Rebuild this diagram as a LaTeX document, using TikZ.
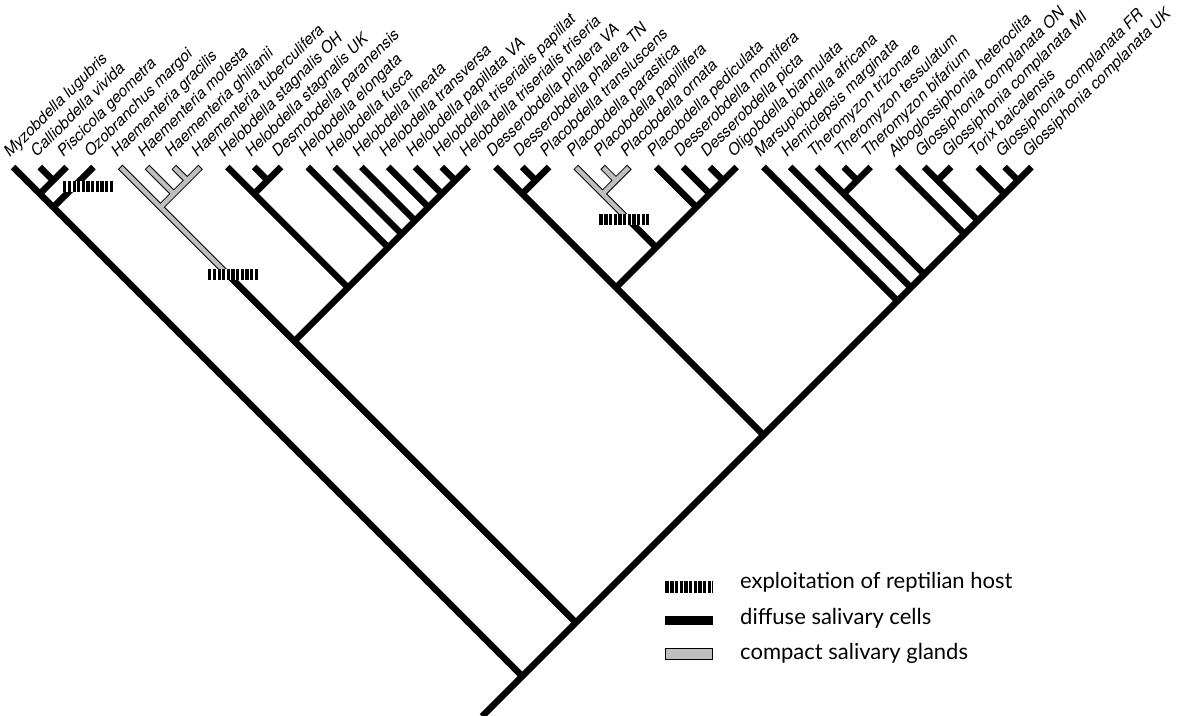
\documentclass[tikz,border=0pt]{standalone}
\usepackage{fontspec}
\setmainfont{TeX Gyre Heros}
\newfontfamily\legfont{Lato}
\begin{document}
\begin{tikzpicture}[x=1pt,y=-1pt,
  br/.style={line width=6.5pt, line cap=butt, line join=miter, black},
  gout/.style={line width=6.5pt, line cap=butt, line join=miter, black},
  gin/.style={line width=4.5pt, line cap=butt, line join=miter, gray!50},
  lab/.style={anchor=base west, rotate=45, inner sep=0pt, font=\fontsize{15.7}{18}\selectfont\itshape},
  leg/.style={anchor=base west, inner sep=0pt, font=\legfont\fontsize{22}{25}\selectfont},
  hmark/.style={fill=black, minimum width=50pt, minimum height=11pt, inner sep=0pt, outer sep=0pt,
    path picture={\foreach \k in {1,...,10}{\fill[white] ([xshift={\k*4.65pt-0.7pt}]path picture bounding box.south west) rectangle ([xshift={\k*4.65pt+0.7pt}]path picture bounding box.north west);}}}
]
\useasboundingbox (0,0) rectangle (1177,715);
\begin{scope}[shift={(13pt,-167pt)}, x=13.4pt, y=-13.4pt]
\foreach \i in {1,...,39} \coordinate (t\i) at ({2*(\i-1)},0);
\coordinate (R) at (38,38);
\coordinate (base) at (35,41);
\coordinate (A) at (3,3);
\coordinate (A1) at (2,2);
\coordinate (A23) at (3,1);
\coordinate (B) at (42,34);
\coordinate (C) at (21,13);
\coordinate (D) at (56,20);
\coordinate (H) at (11,3);
\coordinate (H68) at (12,2);
\coordinate (H78) at (13,1);
\coordinate (Hm) at (16,8);
\coordinate (E) at (25,9);
\coordinate (F) at (18,2);
\coordinate (F1011) at (19,1);
\coordinate (G) at (28,6);
\coordinate (G13) at (29,5);
\coordinate (G14) at (30,4);
\coordinate (G15) at (31,3);
\coordinate (G16) at (32,2);
\coordinate (G17) at (33,1);
\coordinate (I) at (45,9);
\coordinate (J) at (66,10);
\coordinate (K) at (38,2);
\coordinate (K2021) at (39,1);
\coordinate (L) at (48,6);
\coordinate (M) at (44,2);
\coordinate (M2324) at (45,1);
\coordinate (Mm) at (45.6,3.6);
\coordinate (N) at (51,3);
\coordinate (N26) at (52,2);
\coordinate (N27) at (53,1);
\coordinate (J30) at (67,9);
\coordinate (J31) at (68,8);
\coordinate (P) at (62,2);
\coordinate (P3233) at (63,1);
\coordinate (Q) at (71,5);
\coordinate (Q35) at (72,4);
\coordinate (Q3536) at (69,1);
\coordinate (S) at (74,2);
\coordinate (S3839) at (75,1);
% gray outlines
\draw[gout] (t5) -- (H) -- (Hm);
\draw[gout] (t6) -- (H68);
\draw[gout] (t7) -- (H78);
\draw[gout] (t8) -- (H78) -- (H68) -- (H);
\draw[gout] (t22) -- (M) -- (Mm);
\draw[gout] (t23) -- (M2324);
\draw[gout] (t24) -- (M2324) -- (M);
% black branches
\draw[br] (t1) -- (A1) -- (A) -- (R);
\draw[br] (t2) -- (A23);
\draw[br] (t3) -- (A23) -- (A1);
\draw[br] (t4) -- (A);
\draw[br] (Hm) -- (C) -- (B);
\draw[br] (t9) -- (F) -- (E);
\draw[br] (t10) -- (F1011);
\draw[br] (t11) -- (F1011) -- (F);
\draw[br] (t12) -- (G);
\draw[br] (t13) -- (G13);
\draw[br] (t14) -- (G14);
\draw[br] (t15) -- (G15);
\draw[br] (t16) -- (G16);
\draw[br] (t17) -- (G17);
\draw[br] (t18) -- (G17) -- (G16) -- (G15) -- (G14) -- (G13) -- (G) -- (E) -- (C);
\draw[br] (t19) -- (K) -- (I) -- (D);
\draw[br] (t20) -- (K2021);
\draw[br] (t21) -- (K2021) -- (K);
\draw[br] (Mm) -- (L);
\draw[br] (t25) -- (N);
\draw[br] (t26) -- (N26);
\draw[br] (t27) -- (N27);
\draw[br] (t28) -- (N27) -- (N26) -- (N) -- (L) -- (I);
\draw[br] (t29) -- (J);
\draw[br] (t30) -- (J30);
\draw[br] (t31) -- (P) -- (J31);
\draw[br] (t32) -- (P3233);
\draw[br] (t33) -- (P3233) -- (P);
\draw[br] (t34) -- (Q);
\draw[br] (t35) -- (Q3536) -- (Q35);
\draw[br] (t36) -- (Q3536);
\draw[br] (t37) -- (S);
\draw[br] (t38) -- (S3839);
\draw[br] (t39) -- (S3839) -- (S) -- (Q35) -- (Q) -- (J31) -- (J30) -- (J) -- (D) -- (B) -- (R) -- (base);
% gray fills
\draw[gin, shorten <=1pt] (t5) -- (H) -- (Hm);
\draw[gin, shorten <=1pt] (t6) -- (H68);
\draw[gin, shorten <=1pt] (t7) -- (H78);
\draw[gin, shorten <=1pt] (t8) -- (H78) -- (H68) -- (H);
\draw[gin, shorten <=1pt] (t22) -- (M) -- (Mm);
\draw[gin, shorten <=1pt] (t23) -- (M2324);
\draw[gin, shorten <=1pt] (t24) -- (M2324) -- (M);
% labels
\foreach \i/\nm in {1/Myzobdella lugubris, 2/Calliobdella vivida, 3/Piscicola geometra, 4/Ozobranchus margoi,
  5/Haementeria gracilis, 6/Haementeria molesta, 7/Haementeria ghilianii, 8/Haementeria tuberculifera,
  9/Helobdella stagnalis OH, 10/Helobdella stagnalis UK, 11/Desmobdella paranensis, 12/Helobdella elongata,
  13/Helobdella fusca, 14/Helobdella lineata, 15/Helobdella transversa, 16/Helobdella papillata VA,
  17/Helobdella triserialis papillat, 18/Helobdella triserialis triseria, 19/Desserobdella phalera VA,
  20/Desserobdella phalera TN, 21/Placobdella transluscens, 22/Placobdella parasitica, 23/Placobdella papillifera,
  24/Placobdella ornata, 25/Placobdella pediculata, 26/Desserobdella montifera, 27/Desserobdella picta,
  28/Oligobdella biannulata, 29/Marsupiobdella africana, 30/Hemiclepsis marginata, 31/Theromyzon trizonare,
  32/Theromyzon tessulatum, 33/Theromyzon bifarium, 34/Alboglossiphonia heteroclita, 35/Glossiphonia complanata ON,
  36/Glossiphonia complanata MI, 37/Torix baicalensis, 38/Glossiphonia complanata FR, 39/Glossiphonia complanata UK}
  \node[lab] (l\i) at ([shift={(-3pt,9pt)}]t\i) {\nm};
\end{scope}
% host markers
\node[hmark] (mk1) at (87.5,186) {};
\node[hmark] (mk2) at (232.5,274.5) {};
\node[hmark] (mk3) at (624,219) {};
% legend
\node[hmark, minimum width=48pt, minimum height=12pt] (lg1) at (689,587) {};
\node[fill=black, minimum width=48pt, minimum height=9pt, inner sep=0pt] (lg2) at (689,620) {};
\node[fill=gray!50, draw=black, line width=0.8pt, minimum width=47pt, minimum height=11pt, inner sep=0pt] (lg3) at (689,653.5) {};
\node[leg] (tx1) at (740,588) {exploitation of reptilian host};
\node[leg] (tx2) at (740,624) {diffuse salivary cells};
\node[leg] (tx3) at (740,659) {compact salivary glands};
\end{tikzpicture}
\end{document}
